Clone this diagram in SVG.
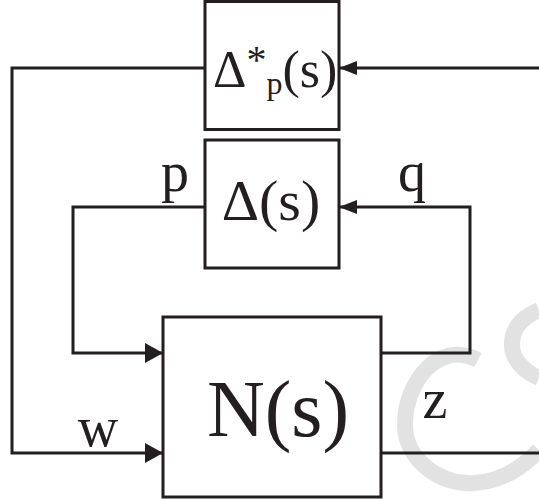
<svg xmlns="http://www.w3.org/2000/svg" width="539" height="499" viewBox="0 0 539 499">
<defs>
<style>
.box{fill:#fff;stroke:#231f20;stroke-width:3}
.ln{fill:none;stroke:#231f20;stroke-width:3;stroke-linejoin:miter}
.t{fill:#231f20}
.wm{fill:none;stroke:#e2e2e2;stroke-width:16;stroke-linecap:butt}
</style>
<marker id="ah" viewBox="0 0 18 20" refX="18" refY="10" markerWidth="18" markerHeight="20" markerUnits="userSpaceOnUse" orient="auto">
<path d="M0,0 L18,10 L0,20 Z" fill="#231f20"/>
</marker>
<marker id="ahs" viewBox="0 0 18 14" refX="18" refY="7" markerWidth="18" markerHeight="14" markerUnits="userSpaceOnUse" orient="auto">
<path d="M0,0 L18,7 L0,14 Z" fill="#231f20"/>
</marker>
</defs>
<g id="watermark">
<path class="wm" d="M478,360 C440,340 405,380 405,425 C405,460 440,485 475,483 C505,481 525,465 539,450"/>
<path class="wm" d="M539,310 C520,318 512,330 512,345 C512,360 525,372 539,378"/>
</g>
<g id="connectors">
<path class="ln" d="M205,68 H12 V453 H163" marker-end="url(#ah)"/>
<path class="ln" d="M539,68 H339" marker-end="url(#ahs)"/>
<path class="ln" d="M205,207 H73 V353 H163" marker-end="url(#ah)"/>
<path class="ln" d="M381,353 H470 V207 H339" marker-end="url(#ahs)"/>
<path class="ln" d="M381,453 H539"/>
</g>
<g id="delta-p">
<rect class="box" x="205" y="1.5" width="134" height="128"/>
<text class="t" font-family="'Liberation Serif', 'Times New Roman', serif" x="213" y="87" font-size="52">Δ<tspan font-size="40" dy="-14">*</tspan><tspan font-size="32" dy="21">p</tspan><tspan font-size="52" dy="-7">(s)</tspan></text>
</g>
<g id="delta">
<rect class="box" x="205" y="140" width="134" height="128"/>
<text class="t" font-family="'Liberation Serif', 'Times New Roman', serif" x="271" y="220" font-size="58" text-anchor="middle">Δ(s)</text>
</g>
<g id="N">
<rect class="box" x="163" y="317" width="218" height="180"/>
<text class="t" font-family="'Liberation Serif', 'Times New Roman', serif" x="278" y="436" font-size="80" text-anchor="middle">N(s)</text>
</g>
<g id="labels" font-family="'Liberation Serif', 'Times New Roman', serif" font-size="56" text-anchor="middle">
<text class="t" x="175" y="191">p</text>
<text class="t" x="412" y="191">q</text>
<text class="t" x="98" y="446">w</text>
<text class="t" x="435" y="418">z</text>
</g>
</svg>
